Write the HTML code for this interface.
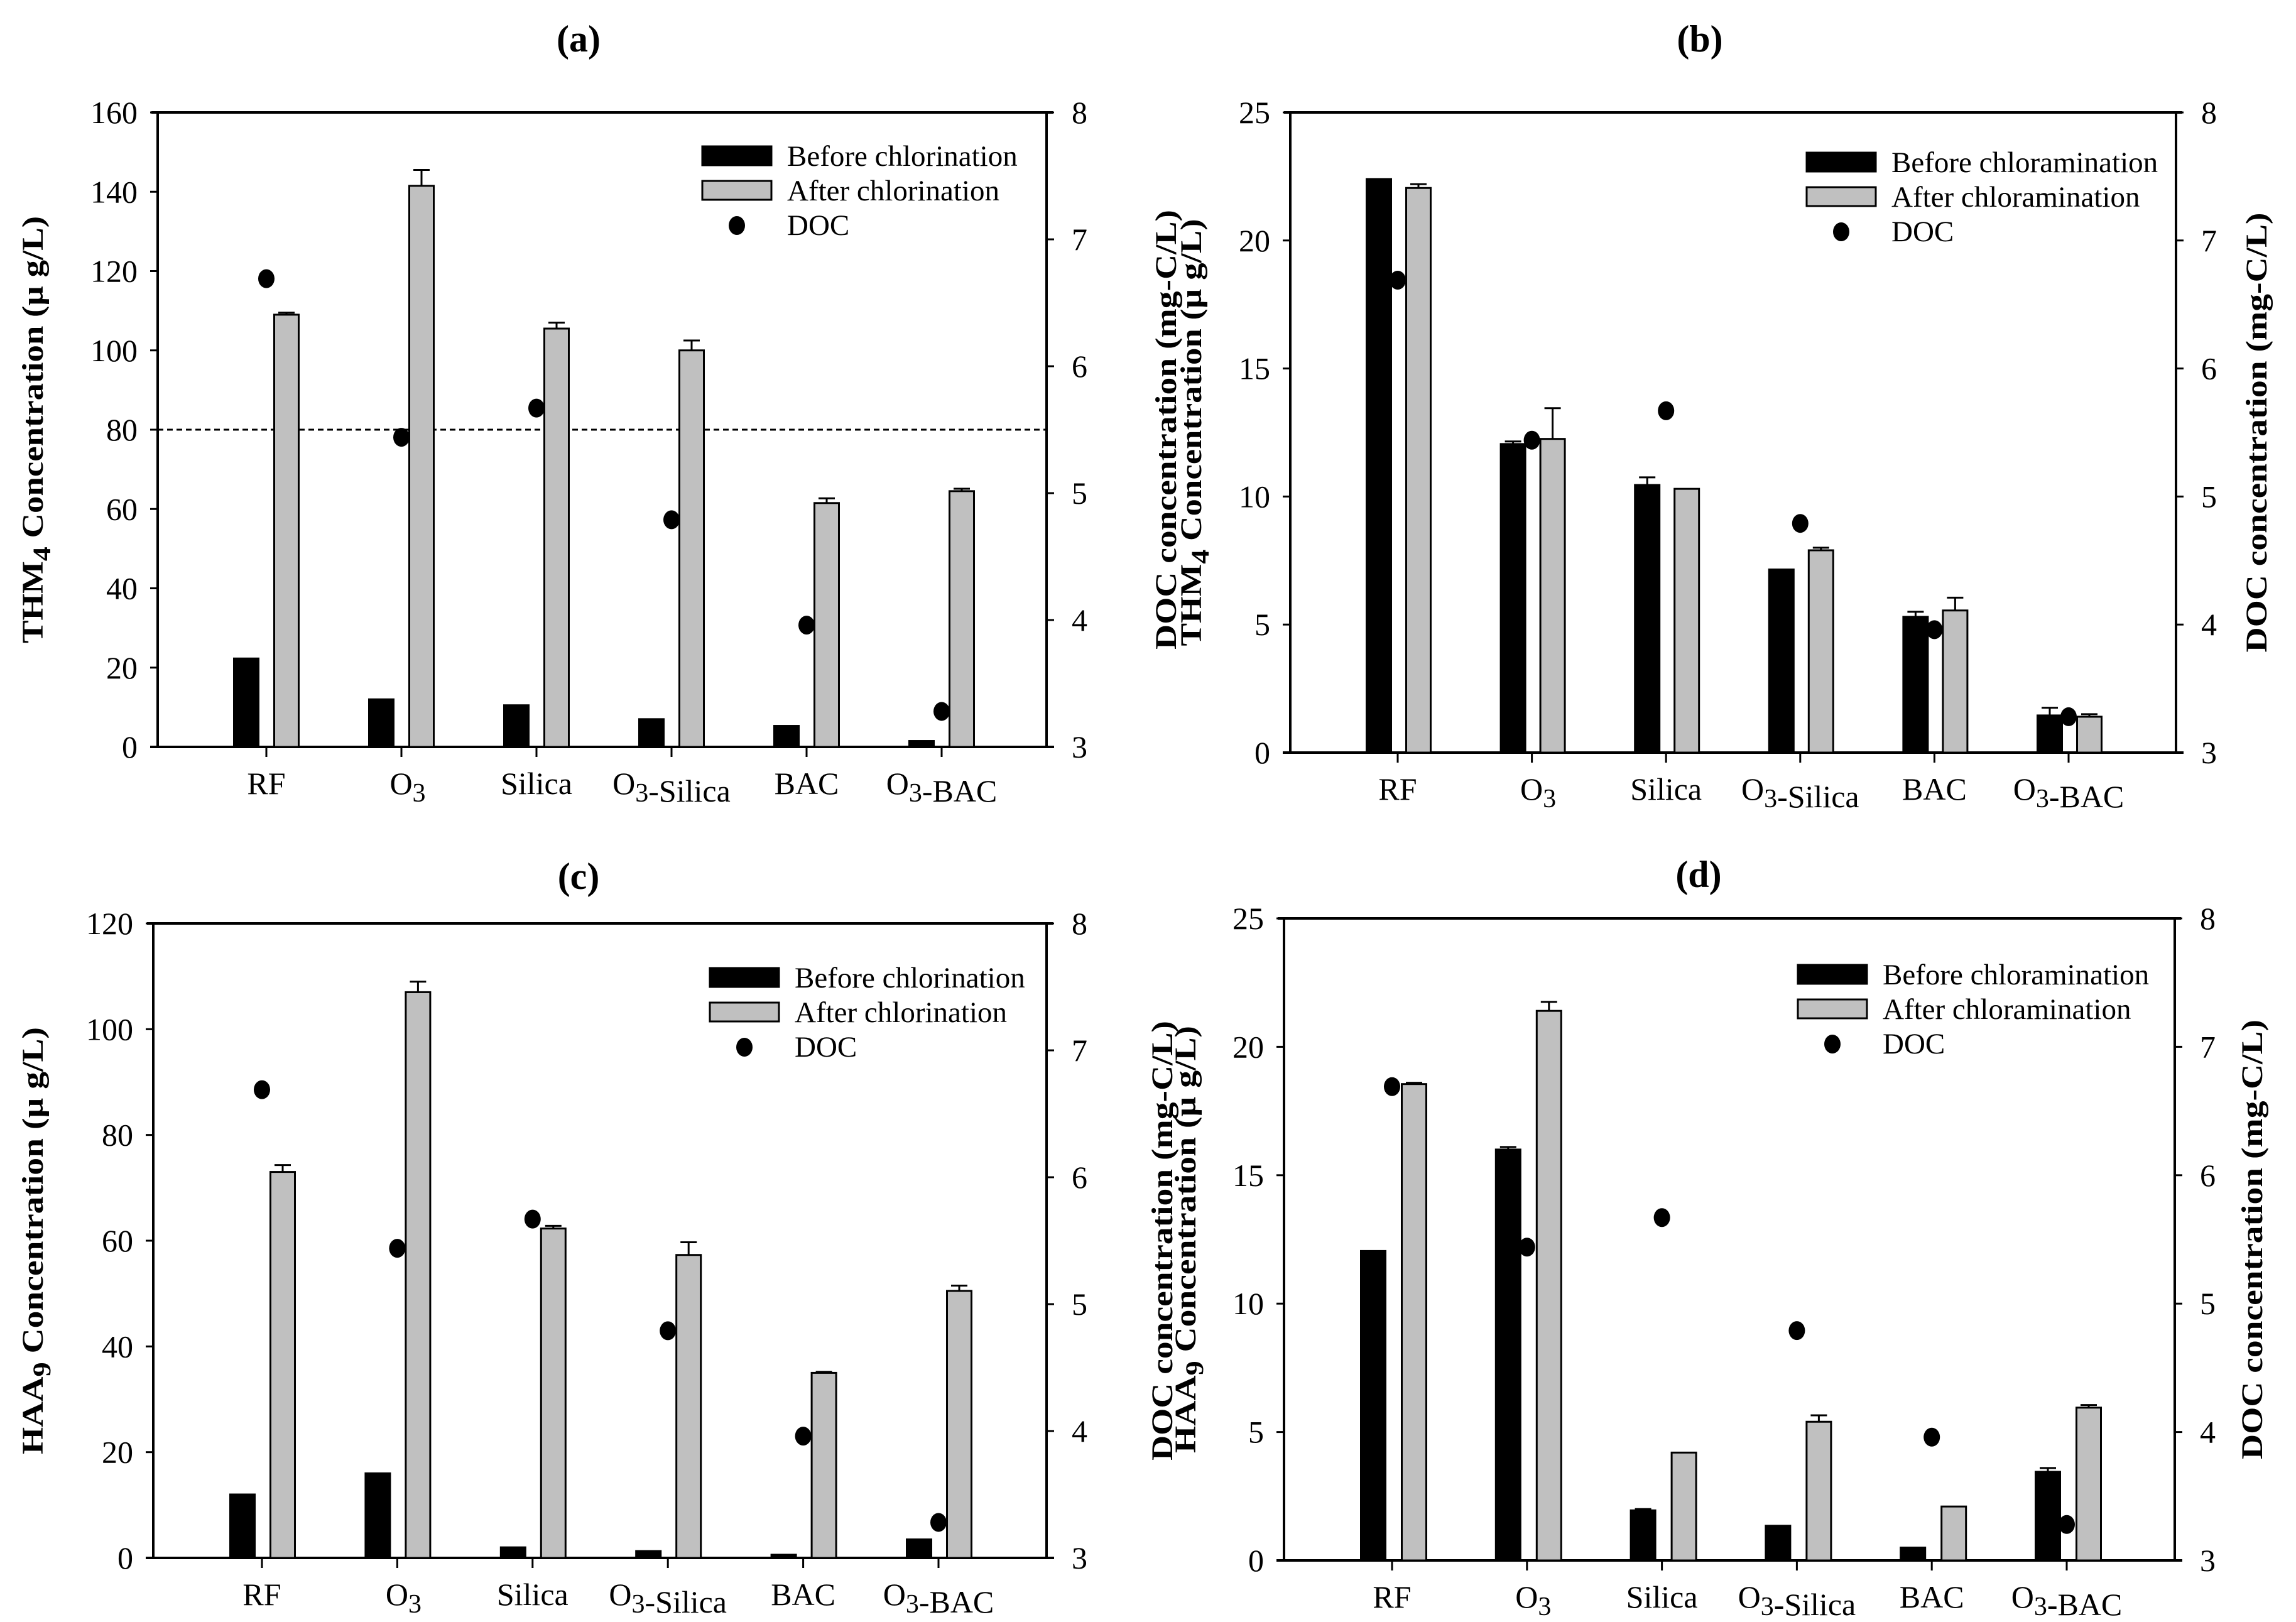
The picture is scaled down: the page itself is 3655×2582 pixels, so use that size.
<!DOCTYPE html>
<html><head><meta charset="utf-8"><style>
html,body{margin:0;padding:0;background:#fff}
svg{display:block;font-family:"Liberation Serif","DejaVu Serif",serif}
text,tspan{font-family:"Liberation Serif","DejaVu Serif",serif;fill:#000}
</style></head>
<body>
<svg id="fig" width="3655" height="2582" viewBox="0 0 3655 2582" xmlns="http://www.w3.org/2000/svg" font-family="Liberation Serif, serif"></svg>
<script>
const categories = ["RF","O3","Silica","O3-Silica","BAC","O3-BAC"];
const docValues = [6.69, 5.44, 5.67, 4.79, 3.96, 3.28];

const aBefore = [22.3, 12, 10.5, 7, 5.3, 1.5];
const aBeforeErr = [0, 0, 0, 0, 0, 0];
const aAfter = [109, 141.5, 105.5, 100, 61.5, 64.5];
const aAfterErr = [0.5, 4, 1.5, 2.5, 1.2, 0.6];
const aTicks = [0,20,40,60,80,100,120,140,160];

const bBefore = [22.4, 12.05, 10.45, 7.15, 5.3, 1.45];
const bBeforeErr = [0, 0.1, 0.3, 0, 0.2, 0.3];
const bAfter = [22.05, 12.25, 10.3, 7.9, 5.55, 1.4];
const bAfterErr = [0.15, 1.2, 0, 0.1, 0.5, 0.1];
const bTicks = [0,5,10,15,20,25];

const cBefore = [12, 16, 2, 1.3, 0.6, 3.5];
const cBeforeErr = [0, 0, 0, 0, 0, 0];
const cAfter = [73, 107, 62.3, 57.3, 35, 50.5];
const cAfterErr = [1.3, 2, 0.5, 2.4, 0.2, 1.0];
const cTicks = [0,20,40,60,80,100,120];

const dBefore = [12.05, 16, 1.95, 1.35, 0.5, 3.45];
const dBeforeErr = [0, 0.1, 0.05, 0, 0, 0.15];
const dAfter = [18.55, 21.4, 4.2, 5.4, 2.1, 5.95];
const dAfterErr = [0.05, 0.35, 0, 0.25, 0, 0.1];
const dTicks = [0,5,10,15,20,25];

const docTicks = [3,4,5,6,7,8];

const NS = "http://www.w3.org/2000/svg";
const FF = '"Liberation Serif", "DejaVu Serif", serif';
const fig = document.getElementById('fig');
function mk(tag, attrs, parent){
  const e = document.createElementNS(NS, tag);
  for (const k in attrs) e.setAttribute(k, attrs[k]);
  if (tag === 'text') e.style.fontFamily = FF;
  (parent||fig).appendChild(e);
  return e;
}
function catLabel(g, name, x, y){
  const t = mk('text', {x:x, y:y, 'font-size':50, 'text-anchor':'middle'}, g);
  const parts = name.split('O3');
  parts.forEach((p,i)=>{
    if(i>0){
      const o = mk('tspan',{},t); o.textContent='O';
      const s = mk('tspan',{dy:12,'font-size':42},t); s.textContent='3';
      const r = mk('tspan',{dy:-12},t); r.textContent='';
    }
    if(p){ const q = mk('tspan',{},t); q.textContent=p; }
  });
  return t;
}

function panel(o){
  const g = mk('g', {});
  
  
  const L=o.L, R=o.R, T=o.T, B=o.B;
  const ymax = o.ticks[o.ticks.length-1];
  const y = v => B - (v/ymax)*(B-T);
  const y2 = v => B - ((v-3)/5)*(B-T);
  const xc = i => o.x0 + o.dx*i;

  const tt = mk('text',{x:o.tx, y:o.ty, 'font-size':60, 'font-weight':'bold', 'text-anchor':'middle'}, g);
  tt.textContent = o.title;
  
  

  const ax = mk('path',{d:`M${L-10} ${T}H${R+10}M${L} ${T}V${B}M${R} ${T}V${B}M${L-12} ${B}H${R+12}`, stroke:'#000','stroke-width':4, fill:'none'}, g);
  
  

  o.ticks.forEach(v=>{
    mk('line',{x1:L-12,x2:L,y1:y(v),y2:y(v),stroke:'#000','stroke-width':3},g);
    const t = mk('text',{x:L-32,y:y(v)+17,'font-size':50,'text-anchor':'end'},g);
    t.textContent = v;
    
    
  });
  docTicks.forEach(v=>{
    mk('line',{x1:R,x2:R+12,y1:y2(v),y2:y2(v),stroke:'#000','stroke-width':3},g);
    const t = mk('text',{x:R+40,y:y2(v)+17,'font-size':50},g);
    t.textContent = v;
    
    
  });
  categories.forEach((c,i)=>{
    mk('line',{x1:xc(i),x2:xc(i),y1:B,y2:B+16,stroke:'#000','stroke-width':3},g);
    const t = catLabel(g, c, xc(i)+ (i===1?10:0), B+75);
    
    
  });

  if (o.limit){
    const dl = mk('line',{x1:L,x2:R,y1:y(o.limit),y2:y(o.limit),stroke:'#000','stroke-width':3,'stroke-dasharray':'9 6'},g);
    
    
  }

  function bars(vals, errs, off, fill, nm){
    vals.forEach((v,i)=>{
      const cx = xc(i)+off, w = 39;
      const r = mk('rect',{x:cx-w/2,y:y(v),width:w,height:B-y(v),fill:fill,stroke:'#000','stroke-width':3},g);
      
      
      if (errs[i]>0){
        const ye = y(v+errs[i]);
        mk('path',{d:`M${cx} ${y(v)}V${ye}M${cx-13} ${ye}H${cx+13}`,stroke:'#000','stroke-width':3,fill:'none'},g);
      }
    });
  }
  bars(o.before, o.beforeErr, o.offB, '#000', 'bar-before');
  bars(o.after, o.afterErr, o.offA, '#c0c0c0', 'bar-after');
  docValues.forEach((v,i)=>{
    const d = mk('ellipse',{cx:xc(i)+o.dotOff, cy:y2(v), rx:13, ry:15, fill:'#000'},g);
    
    
  });

  const lt = mk('text',{transform:`translate(${o.lx},${(T+B)/2}) rotate(-90)`,'font-size':48,'font-weight':'bold','text-anchor':'middle',textLength:680,lengthAdjust:'spacingAndGlyphs'},g);
  const a1 = mk('tspan',{},lt); a1.textContent = o.ylab;
  const a2 = mk('tspan',{dy:12,'font-size':40},lt); a2.textContent = o.ysub;
  const a3 = mk('tspan',{dy:-12},lt); a3.textContent = ' Concentration (µ  g/L)';
  
  
  const rt = mk('text',{transform:`translate(${o.rx},${(T+B)/2}) rotate(-90)`,'font-size':48,'font-weight':'bold','text-anchor':'middle',textLength:700,lengthAdjust:'spacingAndGlyphs'},g);
  rt.textContent = 'DOC concentration (mg-C/L)';
  
  

  const lg = mk('g',{},g);
  
  
  const lx = o.legX, ly = o.legY;
  mk('rect',{x:lx,y:ly-15,width:110,height:30,fill:'#000',stroke:'#000','stroke-width':3},lg);
  mk('rect',{x:lx,y:ly+40,width:110,height:30,fill:'#c0c0c0',stroke:'#000','stroke-width':3},lg);
  mk('ellipse',{cx:lx+55,cy:ly+111,rx:13,ry:15,fill:'#000'},lg);
  const labs = [o.leg1, o.leg2, 'DOC'];
  labs.forEach((s,i)=>{
    const t = mk('text',{x:lx+135,y:ly+16+i*55,'font-size':47},lg);
    t.textContent = s;
    
    
  });
}

panel({name:'panel-a', title:'(a)', tx:921, ty:82, L:251, R:1666, T:179, B:1189, x0:424, dx:215, offB:-32, offA:32, dotOff:0,
  ticks:aTicks, before:aBefore, beforeErr:aBeforeErr, after:aAfter, afterErr:aAfterErr, limit:80,
  ylab:'THM', ysub:'4', lx:68, rx:1872, legX:1118, legY:248, leg1:'Before chlorination', leg2:'After chlorination'});
panel({name:'panel-b', title:'(b)', tx:2706, ty:82, L:2054, R:3464, T:179, B:1198, x0:2225, dx:213.6, offB:-30, offA:33, dotOff:0,
  ticks:bTicks, before:bBefore, beforeErr:bBeforeErr, after:bAfter, afterErr:bAfterErr,
  ylab:'THM', ysub:'4', lx:1912, rx:3608, legX:2876, legY:258, leg1:'Before chloramination', leg2:'After chloramination'});
panel({name:'panel-c', title:'(c)', tx:921, ty:1415, L:244, R:1666, T:1470, B:2480, x0:417, dx:215.4, offB:-31, offA:33, dotOff:0,
  ticks:cTicks, before:cBefore, beforeErr:cBeforeErr, after:cAfter, afterErr:cAfterErr,
  ylab:'HAA', ysub:'9', lx:68, rx:1866, legX:1130, legY:1556, leg1:'Before chlorination', leg2:'After chlorination'});
panel({name:'panel-d', title:'(d)', tx:2704, ty:1412, L:2044, R:3462, T:1462, B:2484, x0:2216, dx:214.8, offB:-30, offA:35, dotOff:0,
  ticks:dTicks, before:dBefore, beforeErr:dBeforeErr, after:dAfter, afterErr:dAfterErr,
  ylab:'HAA', ysub:'9', lx:1903, rx:3601, legX:2862, legY:1551, leg1:'Before chloramination', leg2:'After chloramination'});
</script>
</body></html>
